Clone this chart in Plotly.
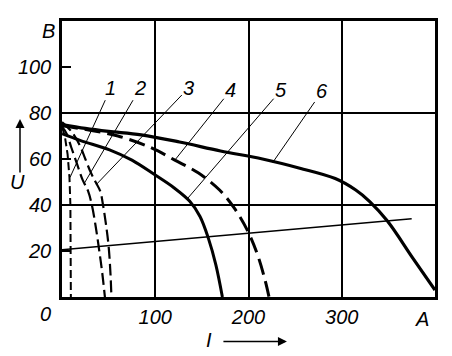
import plotly.graph_objects as go

# ---- data ----
I1 = [0, 3, 6, 8, 9, 9.5, 9.5]
U1 = [74, 70, 62, 52, 40, 20, 0]

I2 = [0, 5, 10, 16, 22, 28, 32, 36, 40, 43, 46]
U2 = [74, 71, 65, 58, 51, 46, 40, 31, 20, 11, 0]

I3 = [0, 10, 19, 25, 31, 36, 41, 44, 47, 50, 52, 53]
U3 = [76, 72, 66, 60, 54, 50, 46, 40, 32, 22, 10, 0]

I4 = [0, 30, 60, 95, 121, 146, 169, 185, 200, 210, 218, 222]
U4 = [74.5, 72.5, 70, 65, 59.5, 54, 46.5, 38.5, 28, 18, 7, 0]

I5 = [0, 20, 51, 75, 100, 120, 137, 148, 157, 165, 172]
U5 = [71, 68, 64, 59.5, 53, 47.5, 41.6, 35, 25.5, 14, 0]

I6 = [0, 25, 50, 85, 126, 170, 215, 255, 293, 315, 330, 349, 376, 400]
U6 = [75, 73.3, 72, 70.5, 67.4, 63.5, 60, 56, 51.5, 46.5, 41.5, 33, 17, 3]

I_load = [0, 375]
U_load = [20.5, 34]

x_ticks = [100, 200, 300]
y_ticks = [20, 40, 60, 80, 100]
x_grid = [100, 200, 300]
y_grid = [40, 80]

curve_labels = ["1", "2", "3", "4", "5", "6"]
label_pos = [(52.5, 91), (84, 91), (136, 91), (181, 90), (235, 90), (279, 89.5)]
label_target = [(8.6, 52), (24, 49.5), (37, 49), (121, 59.5), (135, 43), (226, 58.5)]

FONT = "Liberation Sans Narrow, Liberation Sans, Arial, sans-serif"

fig = go.Figure()

def add(x, y, width, dash=None, shape="spline"):
    fig.add_trace(go.Scatter(x=x, y=y, mode="lines",
                             line=dict(color="black", width=width, dash=dash, shape=shape),
                             showlegend=False, hoverinfo="skip"))

add(I_load, U_load, 1.5, shape="linear")
add(I1, U1, 2, "8px,4px", shape="linear")
add(I2, U2, 2.2, "12px,5px")
add(I3, U3, 2.2, "12px,5px")
add(I4, U4, 3, "16px,7px")
add(I5, U5, 3)
add(I6, U6, 3.2)

# grid axes overlay
fig.add_trace(go.Scatter(x=[0], y=[0], xaxis="x2", yaxis="y2", mode="markers",
                         marker=dict(opacity=0), showlegend=False, hoverinfo="skip"))

for t, (lx, ly), (tx, ty) in zip(curve_labels, label_pos, label_target):
    fig.add_annotation(x=tx, y=ty, ax=lx, ay=ly, axref="x", ayref="y",
                       text="<i>%s</i>" % t, showarrow=True, arrowhead=0,
                       arrowwidth=1, arrowcolor="black",
                       font=dict(family=FONT, size=20, color="black"))

def txt(x, y, s, size=20):
    fig.add_annotation(x=x, y=y, xref="paper", yref="paper", text="<i>%s</i>" % s,
                       xanchor="center", yanchor="middle",
                       showarrow=False, font=dict(family=FONT, size=size, color="black"))

txt(-0.0375, 0.964, "B")
txt(-0.043, -0.061, "0")
txt(0.965, -0.079, "A")
txt(0.394, -0.154, "I")
txt(-0.118, 0.416, "U")

fig.add_annotation(x=0.603, y=-0.161, xref="paper", yref="paper", ax=-65, ay=0,
                   text="", showarrow=True, arrowhead=2, arrowsize=1.2,
                   arrowwidth=1.5, arrowcolor="black")
fig.add_annotation(x=-0.1126, y=0.645, xref="paper", yref="paper", ax=0, ay=55,
                   text="", showarrow=True, arrowhead=2, arrowsize=1.2,
                   arrowwidth=1.5, arrowcolor="black")

fig.update_layout(
    width=444, height=348,
    margin=dict(l=54, r=17, t=10, b=59),
    paper_bgcolor="white", plot_bgcolor="white",
    font=dict(family=FONT, size=20, color="black"),
    xaxis=dict(range=[0, 400], tickvals=x_ticks,
               ticktext=["<i>%d</i>" % v for v in x_ticks],
               showgrid=False, zeroline=False, showline=True, mirror=True,
               linecolor="black", linewidth=2.5, ticks="", ticklabelstandoff=0),
    yaxis=dict(range=[0, 120], tickvals=y_ticks,
               ticktext=["<i>%d</i>" % v for v in y_ticks],
               showgrid=False, zeroline=False, showline=True, mirror=True,
               linecolor="black", linewidth=2.5, ticks="inside", ticklen=9,
               tickwidth=1.5, tickcolor="black", ticklabelstandoff=4),
    xaxis2=dict(range=[0, 400], overlaying="x", tickvals=x_grid, showticklabels=False,
                showgrid=True, gridcolor="black", gridwidth=1.5, zeroline=False),
    yaxis2=dict(range=[0, 120], overlaying="y", tickvals=y_grid, showticklabels=False,
                showgrid=True, gridcolor="black", gridwidth=1.5, zeroline=False),
)

fig.write_html("out.html")
